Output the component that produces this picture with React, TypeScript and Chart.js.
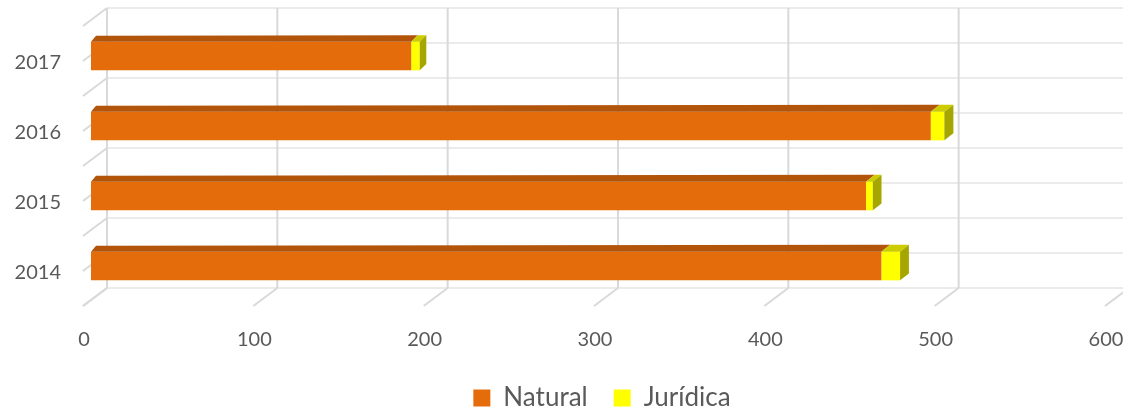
import React, { useEffect, useRef } from 'react';
import { Chart, registerables } from 'chart.js';

Chart.register(...registerables);

// ---- data ----
const categories = ['2017', '2016', '2015', '2014'];
const naturalValues = [188, 493, 455, 464];
const juridicaValues = [5, 8, 4, 11];
const xTickValues = [0, 100, 200, 300, 400, 500, 600];
const seriesLabels = ['Natural', 'Jurídica'];

// ---- styles ----
const frontColors = ['#E46C0A', '#FFFF00'];
const topColors = ['#B2540A', '#CCCC00'];
const sideColors = ['#A5500A', '#A6A600'];
const TEXT = '#595959';
const GRID_V = '#D9D9D9';
const GRID_H = '#EBEBEB';
const FONT = 'Lato';

// 3D projection offsets (pixels)
const BACK_DX = 16;
const BACK_DY = -13;
const FLOOR_DX = -24;
const FLOOR_DY = 18;

function depthAt(x: number, left: number) {
  return { dx: 5 + (x - left) * 0.0047, dy: -6 - (x - left) * 0.0012 };
}

function line(ctx: CanvasRenderingContext2D, x1: number, y1: number, x2: number, y2: number) {
  ctx.beginPath();
  ctx.moveTo(x1, y1);
  ctx.lineTo(x2, y2);
  ctx.stroke();
}

function poly(ctx: CanvasRenderingContext2D, pts: number[][]) {
  ctx.beginPath();
  ctx.moveTo(pts[0][0], pts[0][1]);
  for (let i = 1; i < pts.length; i++) ctx.lineTo(pts[i][0], pts[i][1]);
  ctx.closePath();
  ctx.fill();
}

const wallsPlugin = {
  id: 'walls3d',
  beforeDatasetsDraw(chart: any) {
    const { ctx, chartArea, scales } = chart;
    const xs = scales.x;
    const ys = scales.y;
    const band = (chartArea.bottom - chartArea.top) / categories.length;
    const backLeft = xs.getPixelForValue(xTickValues[0]) + BACK_DX;
    const backRight = xs.getPixelForValue(xTickValues[xTickValues.length - 1]) + BACK_DX;
    const ysList: number[] = [];
    categories.forEach((_, i) => {
      const c = ys.getPixelForValue(i) + BACK_DY;
      ysList.push(c - band / 2, c);
      if (i === categories.length - 1) ysList.push(c + band / 2);
    });
    const backTop = ysList[0];
    const backBottom = ysList[ysList.length - 1];
    ctx.save();
    ctx.lineWidth = 2;
    ctx.strokeStyle = GRID_H;
    ysList.forEach((y) => line(ctx, backLeft, y, backRight, y));
    ctx.strokeStyle = GRID_V;
    ysList.forEach((y) => line(ctx, backLeft, y, backLeft + FLOOR_DX, y + FLOOR_DY));
    xTickValues.forEach((v) => {
      const xb = xs.getPixelForValue(v) + BACK_DX;
      line(ctx, xb, backTop, xb, backBottom);
      line(ctx, xb, backBottom, xb + FLOOR_DX, backBottom + FLOOR_DY);
    });
    ctx.restore();
  },
};

const facesPlugin = {
  id: 'faces3d',
  afterDatasetsDraw(chart: any) {
    const { ctx, chartArea } = chart;
    const n = chart.data.datasets.length;
    ctx.save();
    for (let i = 0; i < n; i++) {
      const meta = chart.getDatasetMeta(i);
      meta.data.forEach((el: any) => {
        const { x, y, base, height } = el.getProps(['x', 'y', 'base', 'height'], true);
        const x1 = Math.min(base, x);
        const x2 = Math.max(base, x);
        const yT = y - height / 2;
        const yB = y + height / 2;
        const d1 = depthAt(x1, chartArea.left);
        const d2 = depthAt(x2, chartArea.left);
        ctx.fillStyle = topColors[i];
        poly(ctx, [
          [x1, yT],
          [x2, yT],
          [x2 + d2.dx, yT + d2.dy],
          [x1 + d1.dx, yT + d1.dy],
        ]);
        if (i === n - 1) {
          ctx.fillStyle = sideColors[i];
          poly(ctx, [
            [x2, yT],
            [x2 + d2.dx, yT + d2.dy],
            [x2 + d2.dx, yB + d2.dy],
            [x2, yB],
          ]);
        }
      });
    }
    ctx.restore();
  },
};

export default function App() {
  const ref = useRef<HTMLCanvasElement | null>(null);

  useEffect(() => {
    document.body.style.margin = '0';
    const canvas = ref.current;
    if (!canvas) return;
    const chart = new Chart(canvas, {
      type: 'bar',
      data: {
        labels: categories,
        datasets: [
          {
            label: seriesLabels[0],
            data: naturalValues,
            backgroundColor: frontColors[0],
            borderWidth: 0,
            barPercentage: 0.41,
            categoryPercentage: 1,
          },
          {
            label: seriesLabels[1],
            data: juridicaValues,
            backgroundColor: frontColors[1],
            borderWidth: 0,
            barPercentage: 0.41,
            categoryPercentage: 1,
          },
        ],
      },
      options: {
        indexAxis: 'y',
        animation: false,
        responsive: false,
        devicePixelRatio: 1,
        layout: { padding: { top: 21, right: 10, bottom: -8, left: 0 } },
        plugins: {
          tooltip: { enabled: false },
          legend: {
            position: 'bottom',
            fullSize: false,
            labels: {
              color: TEXT,
              boxWidth: 17,
              boxHeight: 17,
              padding: 26,
              font: { family: FONT, size: 26 },
            },
          },
        },
        scales: {
          x: {
            stacked: true,
            min: 0,
            max: 600,
            grid: { display: false, drawTicks: false },
            border: { display: false },
            ticks: {
              stepSize: 100,
              color: TEXT,
              padding: 27,
              labelOffset: -7,
              font: { family: FONT, size: 20 },
            },
            afterFit: (axis: any) => {
              axis.height = 58;
              axis.paddingLeft = 0;
              axis.paddingRight = 0;
            },
          },
          y: {
            stacked: true,
            grid: { display: false, drawTicks: false },
            border: { display: false },
            ticks: {
              color: TEXT,
              padding: 30,
              labelOffset: 7,
              font: { family: FONT, size: 20 },
            },
            afterFit: (axis: any) => {
              axis.width = 91;
              axis.paddingTop = 0;
              axis.paddingBottom = 0;
            },
          },
        },
      },
      plugins: [wallsPlugin, facesPlugin],
    } as any);
    return () => chart.destroy();
  }, []);

  return (
    <div style={{ position: 'absolute', left: 0, top: 0, width: 1123, height: 413 }}>
      <canvas ref={ref} width={1123} height={413} style={{ display: 'block', width: 1123, height: 413 }} />
    </div>
  );
}
